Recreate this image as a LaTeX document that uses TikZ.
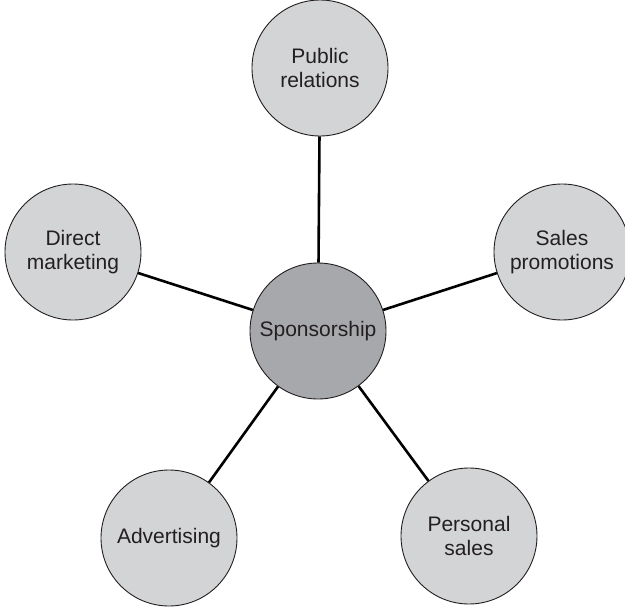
\documentclass[tikz,border=0pt]{standalone}
\usepackage{fontspec}
\setmainfont{Liberation Sans}
\definecolor{outerfill}{HTML}{D3D4D6}
\definecolor{innerfill}{HTML}{A7A8AB}
\definecolor{txt}{HTML}{231F20}
\begin{document}
\begin{tikzpicture}[x=1pt,y=-1pt,
  bubble/.style={circle,draw=txt,line width=0.9pt,fill=outerfill,minimum size=136pt,inner sep=0pt,
    align=center,text=txt,font=\fontsize{21}{24}\selectfont},
  hub/.style={bubble,fill=innerfill},
  link/.style={line width=2.6pt,black}]
\useasboundingbox (0,0) rectangle (625,608);
\node[hub] (c) at (318,331) {Sponsorship};
\node[bubble] (pr) at (320,68) {Public\\relations};
\node[bubble] (dm) at (73,252) {Direct\\marketing};
\node[bubble] (sp) at (562,252) {Sales\\promotions};
\node[bubble] (ad) at (169,538) {Advertising};
\node[bubble] (ps) at (469,536) {Personal\\sales};
\foreach \n in {pr,dm,sp,ad,ps} \draw[link] (c) -- (\n);
\end{tikzpicture}
\end{document}
